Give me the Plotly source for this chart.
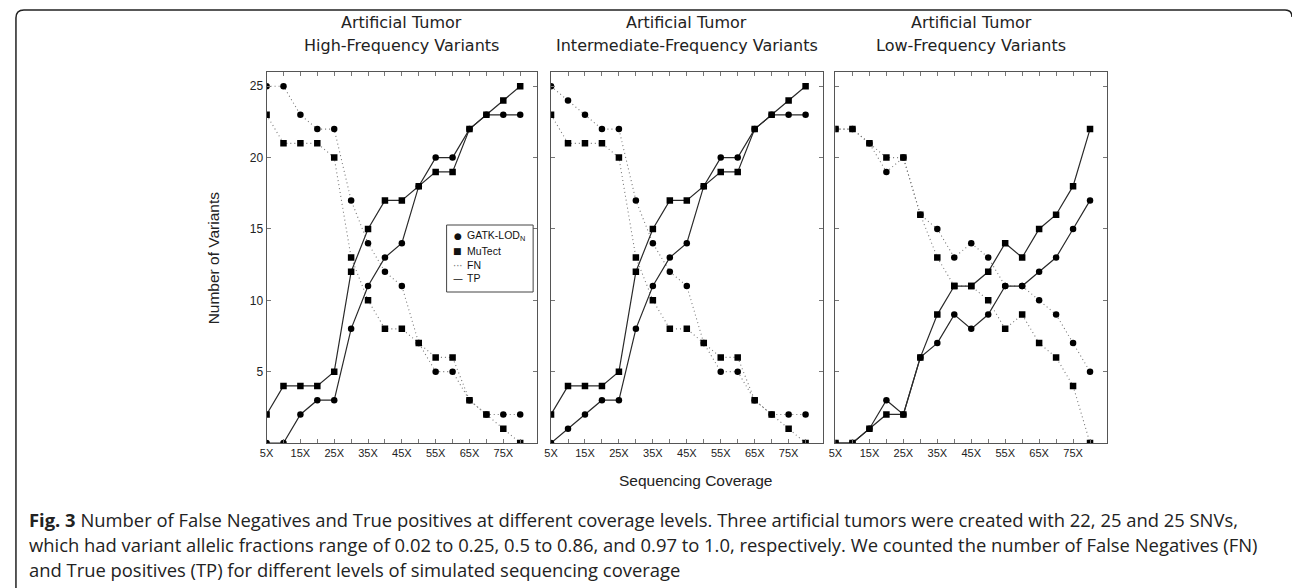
import plotly.graph_objects as go

coverage = [5, 10, 15, 20, 25, 30, 35, 40, 45, 50, 55, 60, 65, 70, 75, 80]
tick_vals = [5, 15, 25, 35, 45, 55, 65, 75]
tick_labels = ["5X", "15X", "25X", "35X", "45X", "55X", "65X", "75X"]
minor_ticks = [10, 20, 30, 40, 50, 60, 70, 80]
y_ticks = [5, 10, 15, 20, 25]

title_top = "Artificial Tumor"
panel_subtitles = [
    "High-Frequency Variants",
    "Intermediate-Frequency Variants",
    "Low-Frequency Variants",
]

high_gatk_fn = [25, 25, 23, 22, 22, 17, 14, 12, 11, 7, 5, 5, 3, 2, 2, 2]
high_mutect_fn = [23, 21, 21, 21, 20, 13, 10, 8, 8, 7, 6, 6, 3, 2, 1, 0]
high_gatk_tp = [0, 0, 2, 3, 3, 8, 11, 13, 14, 18, 20, 20, 22, 23, 23, 23]
high_mutect_tp = [2, 4, 4, 4, 5, 12, 15, 17, 17, 18, 19, 19, 22, 23, 24, 25]

mid_gatk_fn = [25, 24, 23, 22, 22, 17, 14, 12, 11, 7, 5, 5, 3, 2, 2, 2]
mid_mutect_fn = [23, 21, 21, 21, 20, 13, 10, 8, 8, 7, 6, 6, 3, 2, 1, 0]
mid_gatk_tp = [0, 1, 2, 3, 3, 8, 11, 13, 14, 18, 20, 20, 22, 23, 23, 23]
mid_mutect_tp = [2, 4, 4, 4, 5, 12, 15, 17, 17, 18, 19, 19, 22, 23, 24, 25]

low_gatk_fn = [22, 22, 21, 19, 20, 16, 15, 13, 14, 13, 11, 11, 10, 9, 7, 5]
low_mutect_fn = [22, 22, 21, 20, 20, 16, 13, 11, 11, 10, 8, 9, 7, 6, 4, 0]
low_gatk_tp = [0, 0, 1, 3, 2, 6, 7, 9, 8, 9, 11, 11, 12, 13, 15, 17]
low_mutect_tp = [0, 0, 1, 2, 2, 6, 9, 11, 11, 12, 14, 13, 15, 16, 18, 22]

legend_labels = ["GATK-LOD<sub>N</sub>", "MuTect", "FN", "TP"]
legend_symbols = ["●", "■", "···", "—"]

panels = [
    (high_gatk_fn, high_mutect_fn, high_gatk_tp, high_mutect_tp),
    (mid_gatk_fn, mid_mutect_fn, mid_gatk_tp, mid_mutect_tp),
    (low_gatk_fn, low_mutect_fn, low_gatk_tp, low_mutect_tp),
]

W, H = 1292, 588
px = lambda v: v / W
py = lambda v: 1 - v / H

x_domains = [(261, 533), (547, 820), (833, 1106)]
y_top, y_bot = 72, 443

FN_LINE = dict(color="#777777", width=1.1, dash="1px,3px")
TP_LINE = dict(color="#2a2a2a", width=1.2)
CIRCLE = dict(symbol="circle", size=6.5, color="black")
SQUARE = dict(symbol="square", size=6.5, color="black")

fig = go.Figure()

for i, (gfn, mfn, gtp, mtp) in enumerate(panels):
    suffix = "" if i == 0 else str(i + 1)
    xa, ya = "x" + suffix, "y" + suffix
    for vals, line, marker, nm in [
        (gfn, FN_LINE, CIRCLE, "GATK-LOD FN"),
        (mfn, FN_LINE, SQUARE, "MuTect FN"),
        (gtp, TP_LINE, CIRCLE, "GATK-LOD TP"),
        (mtp, TP_LINE, SQUARE, "MuTect TP"),
    ]:
        fig.add_trace(go.Scatter(
            x=coverage, y=vals, mode="lines+markers", line=line, marker=marker,
            xaxis=xa, yaxis=ya, showlegend=False, name=nm,
        ))

x_tick_font = dict(family="Liberation Sans, Arial, sans-serif", size=11, color="#222")
y_tick_font = dict(family="Liberation Sans, Arial, sans-serif", size=12, color="#222")
layout = dict(
    width=W, height=H,
    margin=dict(l=0, r=0, t=0, b=0),
    paper_bgcolor="white", plot_bgcolor="white",
    showlegend=False,
)

for i, (x0, x1) in enumerate(x_domains):
    suffix = "" if i == 0 else str(i + 1)
    layout["xaxis" + suffix] = dict(
        domain=[px(x0), px(x1)], range=[5, 85], anchor="y" + suffix,
        tickvals=tick_vals, ticktext=tick_labels, ticks="inside", ticklen=4,
        tickcolor="#777", tickfont=x_tick_font,
        showline=True, linecolor="#555", linewidth=1, mirror="allticks",
        showgrid=False, zeroline=False,
        minor=dict(tickvals=minor_ticks, ticks="inside",
                   ticklen=4, tickcolor="#777", showgrid=False),
    )
    layout["yaxis" + suffix] = dict(
        domain=[py(y_bot), py(y_top)], range=[0, 26], anchor="x" + suffix,
        tickvals=y_ticks, ticks="inside", ticklen=4, tickcolor="#777",
        tickfont=y_tick_font, showticklabels=(i == 0),
        showline=True, linecolor="#555", linewidth=1, mirror="allticks",
        showgrid=False, zeroline=False,
    )

fig.update_layout(**layout)

title_font = dict(family="DejaVu Sans, sans-serif", size=16, color="#222")
annotations = []
for (x0, x1), sub in zip(x_domains, panel_subtitles):
    cx = px((x0 + x1) / 2)
    annotations.append(dict(
        text=title_top, x=cx, y=py(22), xref="paper", yref="paper",
        xanchor="center", yanchor="middle", showarrow=False, font=title_font,
    ))
    annotations.append(dict(
        text=sub, x=cx, y=py(45), xref="paper", yref="paper",
        xanchor="center", yanchor="middle", showarrow=False, font=title_font,
    ))

label_font = dict(family="Liberation Sans, Arial, sans-serif", size=15.5, color="#222")
annotations.append(dict(
    text="Number of Variants", x=px(208), y=py((y_top + y_bot) / 2),
    xref="paper", yref="paper", xanchor="center", yanchor="middle",
    textangle=-90, showarrow=False, font=label_font,
))
annotations.append(dict(
    text="Sequencing Coverage", x=px(692), y=py(480),
    xref="paper", yref="paper", xanchor="center", yanchor="middle",
    showarrow=False, font=label_font,
))

# legend (panel 1)
leg_font = dict(family="Liberation Sans, Arial, sans-serif", size=10.5, color="#111")
leg_rows = [236, 251, 265, 278]
for k, (sym, lab) in enumerate(zip(legend_symbols, legend_labels)):
    sym_color = "#777" if sym == "···" else "#111"
    sym_size = 9 if k < 2 else 10
    annotations.append(dict(
        text=sym, x=px(453), y=py(leg_rows[k]), xref="paper", yref="paper",
        xanchor="center", yanchor="middle", showarrow=False,
        font=dict(family="DejaVu Sans, sans-serif", size=sym_size, color=sym_color),
    ))
    annotations.append(dict(
        text=lab, x=px(460), y=py(leg_rows[k]), xref="paper", yref="paper",
        xanchor="left", yanchor="middle", showarrow=False, font=leg_font,
    ))

caption_lines = [
    "<b>Fig. 3</b> Number of False Negatives and True positives at different coverage levels. "
    "Three artificial tumors were created with 22, 25 and 25 SNVs,",
    "which had variant allelic fractions range of 0.02 to 0.25, 0.5 to 0.86, and 0.97 to 1.0, "
    "respectively. We counted the number of False Negatives (FN)",
    "and True positives (TP) for different levels of simulated sequencing coverage",
]
for k, line in enumerate(caption_lines):
    annotations.append(dict(
        text=line, x=px(20), y=py(519 + 25 * k), xref="paper", yref="paper",
        xanchor="left", yanchor="middle", showarrow=False,
        font=dict(family="Open Sans, Noto Sans, sans-serif", size=18.4, color="#222"),
    ))

fig.update_layout(annotations=annotations)

# legend box
fig.add_shape(type="rect", xref="paper", yref="paper",
              x0=px(442), x1=px(529), y0=py(292), y1=py(225),
              line=dict(color="#444", width=1), fillcolor="white", layer="above")
# outer rounded frame (open at the bottom)
fig.add_shape(
    type="path", xref="paper", yref="paper",
    path=(f"M {px(9)},{py(588)} L {px(9)},{py(18)} Q {px(9)},{py(10)} {px(17)},{py(10)} "
          f"L {px(1285)},{py(10)} Q {px(1292)},{py(10)} {px(1292)},{py(17)}"),
    line=dict(color="#222", width=1.5),
)

fig.write_html("out.html", config={"displayModeBar": False},
               post_script="document.body.style.margin='0px';")
